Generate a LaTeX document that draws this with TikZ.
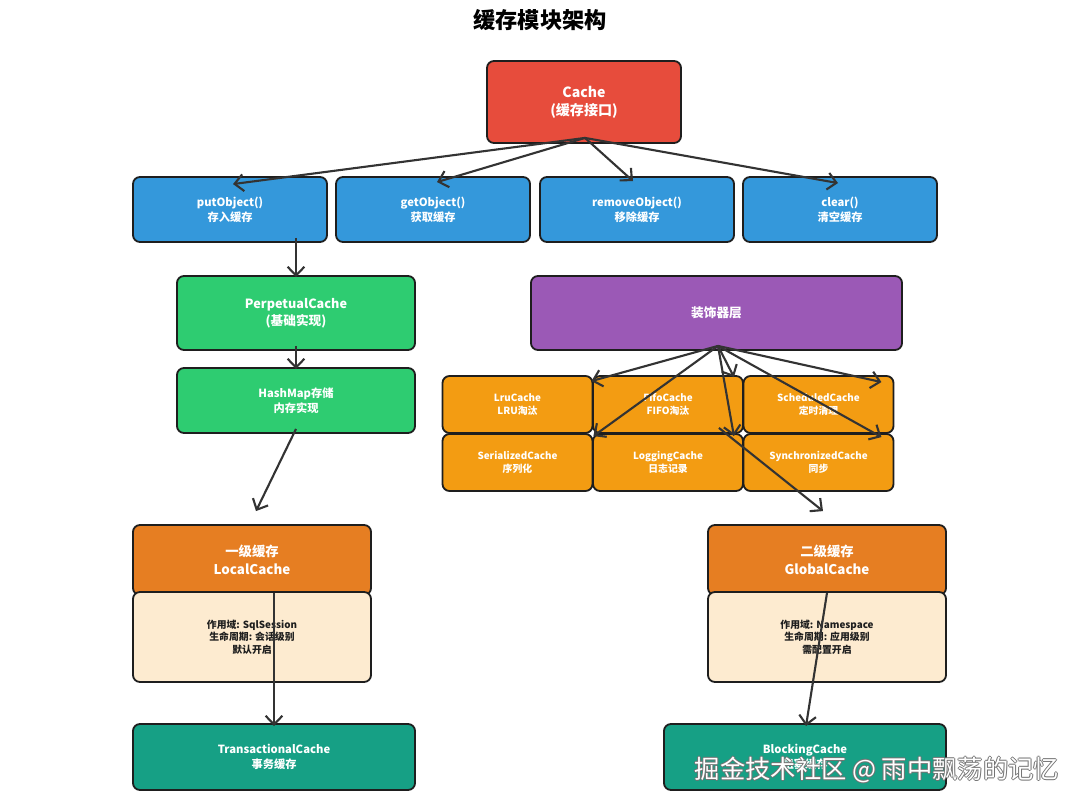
\documentclass[tikz,border=0pt]{standalone}
\usepackage{fontspec}
\setmainfont{Noto Sans CJK SC}
\usetikzlibrary{arrows.meta,positioning,calc}
\definecolor{ink}{HTML}{1E1E1E}
\definecolor{wire}{HTML}{333333}
\definecolor{rouge}{HTML}{E74C3C}
\definecolor{azure}{HTML}{3498DB}
\definecolor{mint}{HTML}{2ECC71}
\definecolor{plum}{HTML}{9B59B6}
\definecolor{amber}{HTML}{F39C12}
\definecolor{carrot}{HTML}{E67E22}
\definecolor{peach}{HTML}{FDEBD0}
\definecolor{teal}{HTML}{16A085}
\tikzset{
  >={Straight Barb[length=2.2mm,width=4.2mm]},
  box/.style={draw=ink,fill=#1,line width=1.3pt,rounded corners=5pt,align=center,
    text=white,inner sep=0pt,font=\bfseries\fontsize{8}{10.5}\selectfont},
  box/.default=azure,
  flow/.style={->,line width=1.5pt,draw=wire},
  wmark/.style={font=\fontsize{18}{20}\selectfont},
}
\begin{document}
\begin{tikzpicture}[x=0.025cm,y=-0.025cm]
  \useasboundingbox (0,0) rectangle (1080,808);
  \node[font=\bfseries\fontsize{15.8}{18}\selectfont] (title) at (540,20) {缓存模块架构};
  \node[box=rouge,minimum width=4.85cm,minimum height=2.05cm,font=\bfseries\fontsize{10}{13}\selectfont] (cache) at (584,102) {Cache\\(缓存接口)};
  % interface methods
  \foreach \n/\x/\t in {put/230/{putObject()\\存入缓存},get/433/{getObject()\\获取缓存},
      rem/637/{removeObject()\\移除缓存},clr/840/{clear()\\清空缓存}}
    \node[box,minimum width=4.85cm,minimum height=1.625cm] (\n) at (\x,209.5) {\t};
  \node[box=mint,minimum width=5.95cm,minimum height=1.85cm,font=\bfseries\fontsize{9}{12}\selectfont] (perp) at (296,313) {PerpetualCache\\(基础实现)};
  \node[box=mint,minimum width=5.95cm,minimum height=1.625cm] (hash) at (296,400.5) {HashMap存储\\内存实现};
  \node[box=plum,minimum width=9.275cm,minimum height=1.85cm,font=\bfseries\fontsize{9}{12}\selectfont] (deco) at (716.5,313) {装饰器层};
  % decorators
  \foreach \n/\x/\y/\t in {lru/517.5/404.5/{LruCache\\LRU淘汰},fifo/668/404.5/{FifoCache\\FIFO淘汰},
      sched/818.5/404.5/{ScheduledCache\\定时清理},ser/517.5/462.5/{SerializedCache\\序列化},
      logg/668/462.5/{LoggingCache\\日志记录},sync/818.5/462.5/{SynchronizedCache\\同步}}
    \node[box=amber,minimum width=3.75cm,minimum height=1.425cm,font=\bfseries\fontsize{7}{9}\selectfont] (\n) at (\x,\y) {\t};
  % two cache levels
  \node[box=carrot,minimum width=5.95cm,minimum height=1.75cm,font=\bfseries\fontsize{9.5}{12.5}\selectfont] (lhead) at (252,560) {一级缓存\\LocalCache};
  \node[box=peach,text=ink,minimum width=5.95cm,minimum height=2.25cm,font=\bfseries\fontsize{7}{9}\selectfont] (lbody) at (252,637) {作用域: SqlSession\\生命周期: 会话级别\\默认开启};
  \node[box=carrot,minimum width=5.95cm,minimum height=1.75cm,font=\bfseries\fontsize{9.5}{12.5}\selectfont] (ghead) at (827,560) {二级缓存\\GlobalCache};
  \node[box=peach,text=ink,minimum width=5.95cm,minimum height=2.25cm,font=\bfseries\fontsize{7}{9}\selectfont] (gbody) at (827,637) {作用域: Namespace\\生命周期: 应用级别\\需配置开启};
  \node[box=teal,minimum width=7.05cm,minimum height=1.65cm] (trans) at (274,757) {TransactionalCache\\事务缓存};
  \node[box=teal,minimum width=7.05cm,minimum height=1.65cm] (block) at (805,757) {BlockingCache\\阻塞缓存};
  % connectors
  \coordinate (hub) at ($(cache.south)+(1,-6)$);
  \draw[flow] (hub) -- ($(put.north)+(3,8)$);
  \draw[flow] (hub) -- ($(get.north)+(4,6)$);
  \draw[flow] (hub) -- ($(rem.north)+(-4,5)$);
  \draw[flow] (hub) -- ($(clr.north)+(-2,7)$);
  \draw[flow] ($(perp.north |- put.south)+(0,-5)$) -- ($(perp.north)+(0,2)$);
  \draw[flow] ($(perp.south)+(0,-5)$) -- ($(hash.north)+(0,2)$);
  \draw[flow] ($(hash.south)+(0,-5)$) -- ($(lhead.north)+(4,-13)$);
  \coordinate (dhub) at ($(deco.south)+(1.5,-5)$);
  \draw[flow] (dhub) -- ($(lru.north east)+(-2,6)$);
  \draw[flow] (dhub) -- ($(ser.north east)+(0,3)$);
  \draw[flow] (dhub) -- ($(fifo.north east)+(-10,2)$);
  \draw[flow] (dhub) -- ($(logg.north east)+(-10,3)$);
  \draw[flow] (dhub) -- ($(sched.north east)+(-13,7)$);
  \draw[flow] (dhub) -- ($(sync.north east)+(-13,4)$);
  \draw[flow] ($(fifo.south east)+(-25,-6)$) -- ($(ghead.north)+(-4,-13)$);
  \draw[flow] ($(trans.north |- lhead.south)+(0,-3)$) -- ($(trans.north)+(0,3)$);
  \draw[flow] ($(ghead.south)+(0,-3)$) -- ($(block.north)+(1,3)$);
  % watermark
  \foreach \dx/\dy [count=\i] in {-1/0,1/0,0/-1,0/1}
    \node[wmark,text=black!55] (wm\i) at ($(877,770)+(\dx,\dy)$) {掘金技术社区 @ 雨中飘荡的记忆};
  \node[wmark,text=white] (wm) at (877,770) {掘金技术社区 @ 雨中飘荡的记忆};
\end{tikzpicture}
\end{document}
